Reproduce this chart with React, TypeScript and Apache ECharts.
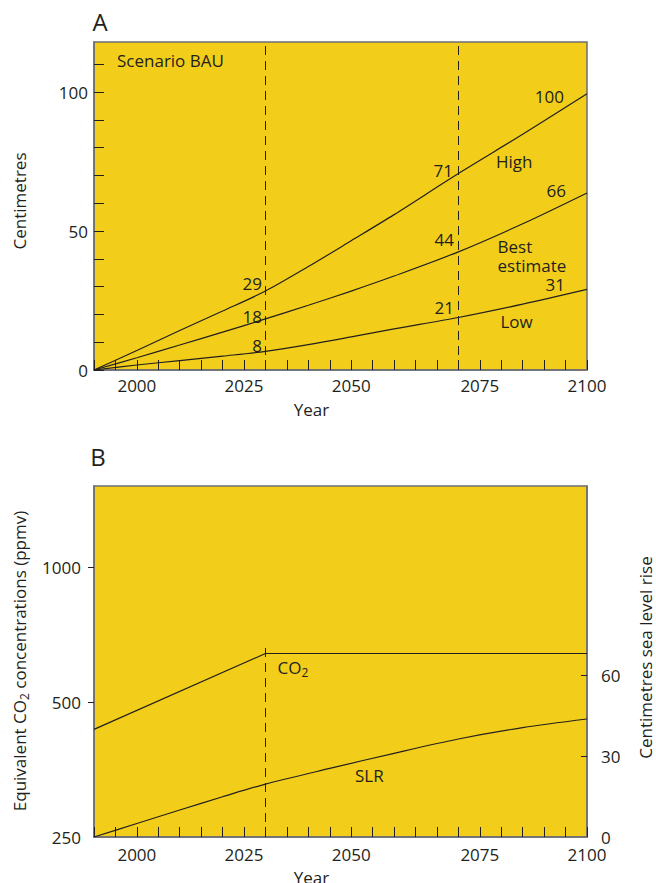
import { useEffect, useRef } from 'react';
import * as echarts from 'echarts';

// ---- Panel A (axis positions as drawn in the source: ticks every 5 "years",
// labels 2075/2100 sit on the 18th/23rd tick as in the original figure) ----
const yearsA = [1990, 2000, 2010, 2020, 2030, 2040, 2050, 2060, 2075, 2090, 2105];
const highA = [0, 7.0, 14.2, 21.2, 28.4, 37.2, 46.5, 55.9, 70.7, 84.8, 99.4];
const bestA = [0, 4.4, 9.0, 13.6, 18.4, 23.3, 28.4, 33.8, 42.5, 52.6, 63.7];
const lowA = [0, 1.8, 3.4, 5.0, 6.7, 9.1, 11.9, 14.8, 18.9, 23.7, 29.0];
const dashYearsA = [2030, 2075];
const xTickLabels: Record<number, string> = { 2000: '2000', 2025: '2025', 2050: '2050', 2080: '2075', 2105: '2100' };
const yLabelsA = [0, 50, 100];
const yTicksA = [0, 10, 20, 30, 40, 50, 60, 70, 80, 90, 100, 110];

// ---- Panel B ----
const co2Years = [1990, 2030, 2105];
const co2Ppm = [435, 643, 643];
const slrYears = [1990, 2000, 2010, 2020, 2030, 2045, 2060, 2075, 2090, 2105];
const slrCm = [0, 5.0, 10.0, 14.9, 19.6, 25.4, 31.0, 36.3, 40.5, 43.7];
const co2LabelsPpm = [250, 500, 1000];
const co2TicksPpm = [500, 1000];
const slrLabels = [0, 30, 60];
const slrTicks = [30, 60];
const dashYearB = 2030;
const dashTopPpm = 677;

const CO2_BASE = 250;
const CO2_MAX = 1523;
const toLog = (v: number) => Math.log2(v / CO2_BASE);

const ink = '#231f20';
const gray = '#6d6e71';
const yellow = '#f2ce1a';
const font = 'Open Sans';

function xAxisFor(gridIndex: number, margin: number) {
  return {
    type: 'value',
    gridIndex,
    min: 1990,
    max: 2105,
    interval: 5,
    axisLine: { show: true, lineStyle: { color: gray, width: 1.5 } },
    axisTick: { show: true, inside: true, length: 10, lineStyle: { color: ink, width: 1 } },
    axisLabel: {
      margin,
      color: ink,
      fontFamily: font,
      fontSize: 17,
      lineHeight: 14,
      showMinLabel: true,
      showMaxLabel: true,
      formatter: (v: number) => xTickLabels[v] ?? '',
    },
    splitLine: { show: false },
  };
}

function text(t: string, x: number, y: number, align: string, size = 17, extra: any = {}, lineHeight?: number) {
  return {
    type: 'text',
    x,
    y,
    silent: true,
    ...extra,
    style: { text: t, fill: ink, fontSize: size, fontFamily: font, lineHeight: lineHeight ?? Math.round(size * 0.8), align, verticalAlign: 'middle' },
  };
}

function lineSeries(x: number[], y: number[], xi: number, yi: number, smooth: number | boolean, extra: any = {}) {
  return {
    type: 'line',
    xAxisIndex: xi,
    yAxisIndex: yi,
    data: x.map((v, i) => [v, y[i]]),
    smooth,
    symbol: 'none',
    lineStyle: { color: ink, width: 1.2 },
    ...extra,
  };
}

export default function App() {
  const ref = useRef<HTMLDivElement>(null);
  useEffect(() => {
    const chart = echarts.init(ref.current!, null, { renderer: 'svg' });
    const dashStyle = { color: ink, type: [9, 6], width: 1 };
    const richSub = {
      n: { fontSize: 17, fontFamily: font, fill: ink, lineHeight: 22 },
      s: { fontSize: 12, fontFamily: font, fill: ink, lineHeight: 12, verticalAlign: 'bottom' },
    };
    const option: any = {
      animation: false,
      backgroundColor: '#ffffff',
      grid: [
        { left: 94, top: 42, width: 493, height: 328, show: true, backgroundColor: yellow, borderColor: gray, borderWidth: 1.5 },
        { left: 94, top: 486, width: 493, height: 351, show: true, backgroundColor: yellow, borderColor: gray, borderWidth: 1.5 },
      ],
      xAxis: [xAxisFor(0, 8), xAxisFor(1, 10)],
      yAxis: [
        {
          type: 'value',
          gridIndex: 0,
          min: 0,
          max: 118,
          interval: 10,
          axisLine: { show: true, lineStyle: { color: gray, width: 1.5 } },
          axisTick: { show: true, inside: true, length: 10, lineStyle: { color: ink, width: 1 }, customValues: yTicksA },
          axisLabel: { margin: 6, color: ink, fontFamily: font, fontSize: 17, lineHeight: 14, customValues: yLabelsA, formatter: (v: number) => (yLabelsA.includes(v) ? String(v) : '') },
          splitLine: { show: false },
        },
        {
          type: 'value',
          gridIndex: 1,
          min: 0,
          max: toLog(CO2_MAX),
          interval: 1,
          axisLine: { show: true, lineStyle: { color: gray, width: 1.5 } },
          axisTick: { show: true, inside: false, length: 6, lineStyle: { color: ink, width: 1 }, customValues: co2TicksPpm.map(toLog) },
          axisLabel: {
            margin: 13,
            color: ink,
            fontFamily: font,
            fontSize: 17,
            lineHeight: 14,
            customValues: co2LabelsPpm.map(toLog),
            formatter: (v: number) => String(Math.round(CO2_BASE * Math.pow(2, v))),
          },
          splitLine: { show: false },
        },
        {
          type: 'value',
          gridIndex: 1,
          position: 'right',
          min: 0,
          max: 130,
          interval: 30,
          axisLine: { show: true, lineStyle: { color: gray, width: 1.5 } },
          axisTick: { show: true, inside: true, length: 6, lineStyle: { color: ink, width: 1 }, customValues: slrTicks },
          axisLabel: { margin: 14, color: ink, fontFamily: font, fontSize: 17, lineHeight: 14, customValues: slrLabels },
          splitLine: { show: false },
        },
      ],
      series: [
        lineSeries(yearsA, highA, 0, 0, 0.3, {
          markLine: {
            silent: true,
            symbol: ['none', 'none'],
            label: { show: false },
            lineStyle: dashStyle,
            data: dashYearsA.map((x) => ({ xAxis: x })),
          },
        }),
        lineSeries(yearsA, bestA, 0, 0, 0.3),
        lineSeries(yearsA, lowA, 0, 0, 0.3),
        lineSeries(co2Years, co2Ppm.map(toLog), 1, 1, false, {
          markLine: {
            silent: true,
            symbol: ['none', 'none'],
            label: { show: false },
            lineStyle: dashStyle,
            data: [[{ coord: [dashYearB, 0] }, { coord: [dashYearB, toLog(dashTopPpm)] }]],
          },
        }),
        lineSeries(slrYears, slrCm, 1, 2, 0.3),
      ],
      graphic: [
        text('A', 100, 21, 'center', 24),
        text('B', 98, 456, 'center', 24),
        text('Scenario BAU', 117, 60, 'left'),
        text('29', 262, 283, 'right'),
        text('18', 262, 316.5, 'right'),
        text('8', 262, 345, 'right'),
        text('71', 453, 170, 'right'),
        text('44', 454, 239.5, 'right'),
        text('21', 454, 307, 'right'),
        text('100', 564, 96.5, 'right'),
        text('66', 566, 190, 'right'),
        text('31', 565, 284, 'right'),
        text('High', 496, 161, 'left'),
        text('Best\nestimate', 497.5, 256, 'left', 17, {}, 19.5),
        text('Low', 500.5, 321.5, 'left'),
        text('Year', 311.5, 409, 'center'),
        text('Year', 311.5, 877.5, 'center'),
        text('Centimetres', 19, 201, 'center', 17, { rotation: Math.PI / 2 }),
        text('Centimetres sea level rise', 645, 657.5, 'center', 17, { rotation: Math.PI / 2 }),
        {
          type: 'text',
          x: 277.5,
          y: 667,
          silent: true,
          style: { text: '{n|CO}{s|2}', align: 'left', verticalAlign: 'middle', rich: richSub },
        },
        text('SLR', 355, 775.5, 'left'),
        {
          type: 'text',
          x: 19,
          y: 661,
          rotation: Math.PI / 2,
          silent: true,
          style: { text: '{n|Equivalent CO}{s|2}{n| concentrations (ppmv)}', align: 'center', verticalAlign: 'middle', rich: richSub },
        },
      ],
    };
    chart.setOption(option);
    return () => chart.dispose();
  }, []);
  return <div ref={ref} style={{ position: 'fixed', left: 0, top: 0, width: 656, height: 883 }} />;
}
